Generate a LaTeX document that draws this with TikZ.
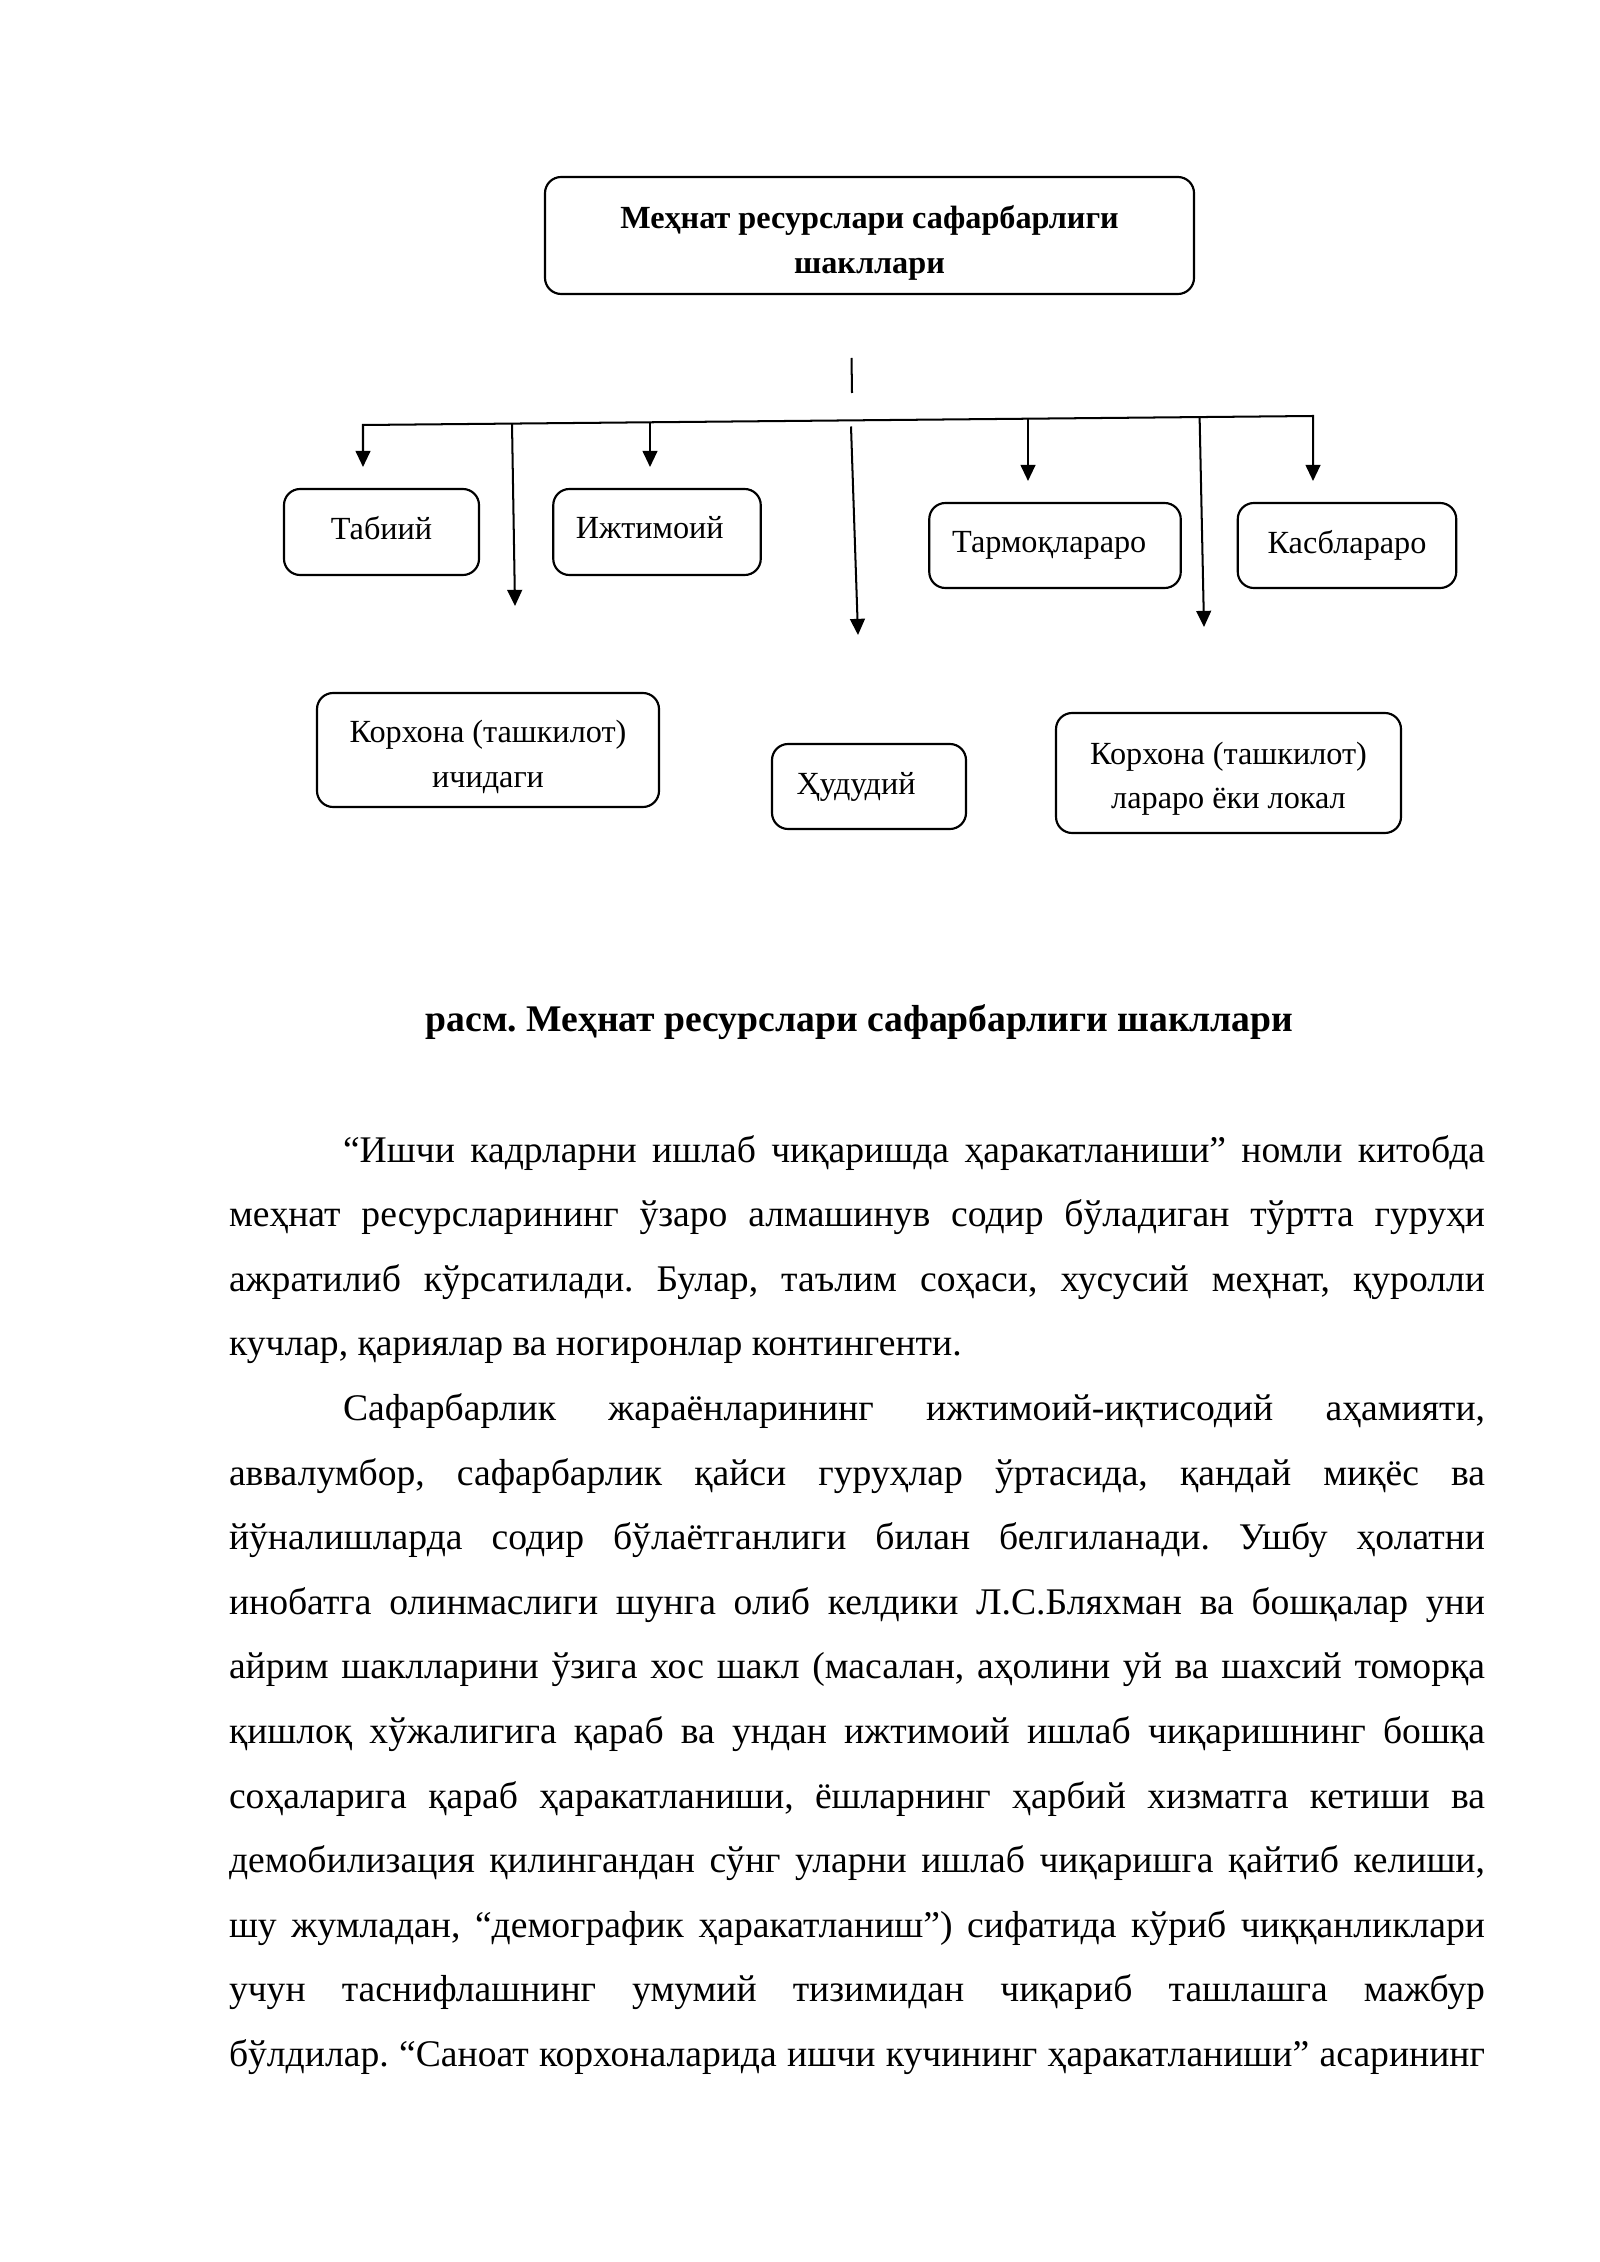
\documentclass[tikz,border=0pt]{standalone}
\usepackage{fontspec}
\setmainfont{Liberation Serif}
\usetikzlibrary{arrows.meta}
\frenchspacing
\newlength\fullw \setlength\fullw{467.3pt}
\newlength\indw \setlength\indw{424.9pt}
\tikzset{
  txt/.style={inner sep=0pt, outer sep=0pt, font=\fontsize{14}{16}\selectfont},
  captxt/.style={inner sep=0pt, outer sep=0pt, font=\fontsize{14}{16}\selectfont\bfseries},
  box/.style 2 args={draw, rounded corners=6pt, line width=0.8pt, inner sep=0pt, outer sep=0pt,
    minimum width=#1*0.37205pt, minimum height=#2*0.37205pt, align=center,
    font=\fontsize{12}{16.5}\selectfont},
  arr/.style={-{Triangle[length=6pt,width=5.5pt]}, line width=0.75pt},
  ln/.style={line width=0.75pt}
}
\begin{document}
\begin{tikzpicture}[x=0.37205pt, y=-0.37205pt]
\useasboundingbox (0,0) rectangle (1600,2262);

% boxes
\node[box={649}{117}] (top) at (869.5,235.5) {\rule{0pt}{14pt}\bfseries Меҳнат ресурслари сафарбарлиги\\\bfseries шакллари};
\node[box={195}{86}] (tab) at (381.5,532) {\rule[-3.2pt]{0pt}{0pt}Табиий};
\node[box={207.5}{86}] (ij) at (657,532) {\rule[-3.2pt]{0pt}{0pt}\hspace*{-5.4pt}Ижтимоий};
\node[box={251.5}{85}] (tarm) at (1055,545.5) {\hspace*{-4.3pt}Тармоқлараро};
\node[box={218.5}{85}] (kasb) at (1347,545.5) {Касблараро};
\node[box={342}{114}] (kor1) at (488,750) {\rule{0pt}{13.5pt}Корхона (ташкилот)\\ичидаги};
\node[box={194}{85}] (hud) at (869,786.5) {\hspace*{-9.6pt}Ҳудудий};
\node[box={345}{120}] (kor2) at (1228.5,773) {\rule{0pt}{12.5pt}Корхона (ташкилот)\\лараро ёки локал};

% connector coordinates
\coordinate (t1) at (851.5,358);
\coordinate (t2) at (852,393);
\coordinate (hL) at (363,425);
\coordinate (hR) at (1313,416);
\coordinate (e1) at (363,467);
\coordinate (e7) at (1313,481);
\coordinate (s2) at (512,423.6);   \coordinate (e2) at (515,606);
\coordinate (s3) at (650,422.3);   \coordinate (e3) at (650,467);
\coordinate (s4) at (851,426.5);   \coordinate (e4) at (858,635);
\coordinate (s5) at (1028,418.7);  \coordinate (e5) at (1028,481);
\coordinate (s6) at (1199.6,417.1);\coordinate (e6) at (1204,627);

\draw[ln] (t1) -- (t2);
\draw[line width=0.75pt, {Triangle[length=6pt,width=5.5pt]}-{Triangle[length=6pt,width=5.5pt]}]
  (e1) -- (hL) -- (hR) -- (e7);
\draw[arr] (s2) -- (e2);
\draw[arr] (s3) -- (e3);
\draw[arr] (s4) -- (e4);
\draw[arr] (s5) -- (e5);
\draw[arr] (s6) -- (e6);

% caption
\node[captxt, anchor=base] (caption) at (859.5,1031) {расм. Меҳнат ресурслари сафарбарлиги шакллари};

% body text
\node[txt, anchor=base west] (l1) at (343,1162) {\makebox[\indw][s]{“Ишчи кадрларни ишлаб чиқаришда ҳаракатланиши” номли китобда}};
\node[txt, anchor=base west] (l2) at (229,1226.6) {\makebox[\fullw][s]{меҳнат ресурсларининг ўзаро алмашинув содир бўладиган тўртта гуруҳи}};
\node[txt, anchor=base west] (l3) at (229,1291.2) {\makebox[\fullw][s]{ажратилиб кўрсатилади. Булар, таълим соҳаси, хусусий меҳнат, қуролли}};
\node[txt, anchor=base west] (l4) at (229,1355.8) {кучлар, қариялар ва ногиронлар контингенти.};
\node[txt, anchor=base west] (l5) at (343,1420.4) {\makebox[\indw][s]{Сафарбарлик жараёнларининг ижтимоий-иқтисодий аҳамияти,}};
\node[txt, anchor=base west] (l6) at (229,1485) {\makebox[\fullw][s]{аввалумбор, сафарбарлик қайси гуруҳлар ўртасида, қандай миқёс ва}};
\node[txt, anchor=base west] (l7) at (229,1549.6) {\makebox[\fullw][s]{йўналишларда содир бўлаётганлиги билан белгиланади. Ушбу ҳолатни}};
\node[txt, anchor=base west] (l8) at (229,1614.2) {\makebox[\fullw][s]{инобатга олинмаслиги шунга олиб келдики Л.С.Бляхман ва бошқалар уни}};
\node[txt, anchor=base west] (l9) at (229,1678.8) {\makebox[\fullw][s]{айрим шаклларини ўзига хос шакл (масалан, аҳолини уй ва шахсий томорқа}};
\node[txt, anchor=base west] (l10) at (229,1743.4) {\makebox[\fullw][s]{қишлоқ хўжалигига қараб ва ундан ижтимоий ишлаб чиқаришнинг бошқа}};
\node[txt, anchor=base west] (l11) at (229,1808) {\makebox[\fullw][s]{соҳаларига қараб ҳаракатланиши, ёшларнинг ҳарбий хизматга кетиши ва}};
\node[txt, anchor=base west] (l12) at (229,1872.6) {\makebox[\fullw][s]{демобилизация қилингандан сўнг уларни ишлаб чиқаришга қайтиб келиши,}};
\node[txt, anchor=base west] (l13) at (229,1937.2) {\makebox[\fullw][s]{шу жумладан, “демографик ҳаракатланиш”) сифатида кўриб чиққанликлари}};
\node[txt, anchor=base west] (l14) at (229,2001.8) {\makebox[\fullw][s]{учун таснифлашнинг умумий тизимидан чиқариб ташлашга мажбур}};
\node[txt, anchor=base west] (l15) at (229,2066.4) {\makebox[\fullw][s]{бўлдилар. “Саноат корхоналарида ишчи кучининг ҳаракатланиши” асарининг}};
\end{tikzpicture}
\end{document}
